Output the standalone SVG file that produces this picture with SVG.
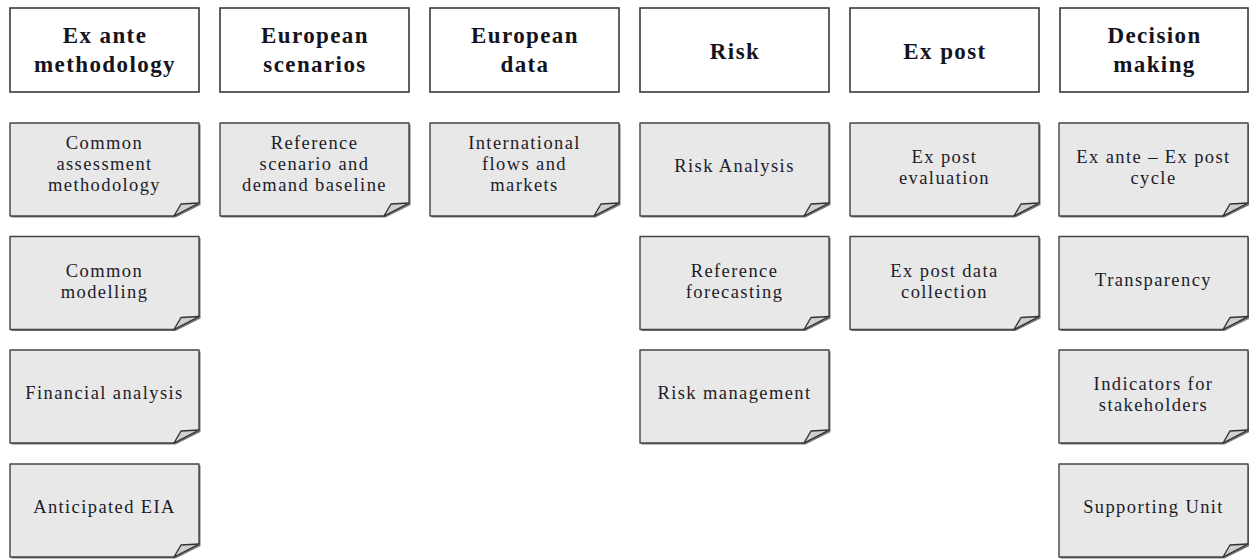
<svg xmlns="http://www.w3.org/2000/svg" width="1249" height="559" viewBox="0 0 1249 559">
<defs>
<style>
.hdr{fill:#fff;stroke:#3a3a3a;stroke-width:1.6}
.ht{font-family:"Liberation Serif",serif;font-weight:bold;font-size:23px;letter-spacing:1.4px;fill:#141420;text-anchor:middle}
.nt{font-family:"Liberation Serif",serif;font-size:18.5px;letter-spacing:1.4px;fill:#1c1c28;text-anchor:middle}
.sh{fill:#777;stroke:none}
.nb{fill:#e8e8e8;stroke:#444;stroke-width:1.4;stroke-linejoin:round}
.curl{fill:#cfcfcf;stroke:#333;stroke-width:1.4;stroke-linejoin:round}
</style>
<g id="note">
<path class="sh" d="M1.5,1.5 H190.5 V82 L165.5,94.5 H1.5 Z"/>
<path class="nb" d="M0,0 H189 V80 L164,93 H0 Z"/>
<path class="curl" d="M164,93 L171,81 L189,80 Z"/>
</g>
</defs>
<rect width="1249" height="559" fill="#fff"/>
<g id="connectors"/>

<g id="h1"><rect class="hdr" x="10" y="8" width="189" height="84"/><text class="ht" x="105" y="43">Ex ante</text><text class="ht" x="105" y="72">methodology</text></g>
<g id="h2"><rect class="hdr" x="220" y="8" width="189" height="84"/><text class="ht" x="315" y="43">European</text><text class="ht" x="315" y="72">scenarios</text></g>
<g id="h3"><rect class="hdr" x="430" y="8" width="189" height="84"/><text class="ht" x="525" y="43">European</text><text class="ht" x="525" y="72">data</text></g>
<g id="h4"><rect class="hdr" x="640" y="8" width="189" height="84"/><text class="ht" x="735" y="59">Risk</text></g>
<g id="h5"><rect class="hdr" x="850" y="8" width="189" height="84"/><text class="ht" x="945" y="59">Ex post</text></g>
<g id="h6"><rect class="hdr" x="1060" y="8" width="188" height="84"/><text class="ht" x="1154.5" y="43">Decision</text><text class="ht" x="1154.5" y="72">making</text></g>

<g id="n1a"><use href="#note" x="10" y="123"/><text class="nt" x="104.5" y="148.5">Common</text><text class="nt" x="104.5" y="169.5">assessment</text><text class="nt" x="104.5" y="190.5">methodology</text></g>
<g id="n1b"><use href="#note" x="10" y="236.5"/><text class="nt" x="104.5" y="276.5">Common</text><text class="nt" x="104.5" y="297.5">modelling</text></g>
<g id="n1c"><use href="#note" x="10" y="350"/><text class="nt" x="104.5" y="398.5">Financial analysis</text></g>
<g id="n1d"><use href="#note" x="10" y="464"/><text class="nt" x="104.5" y="512.5">Anticipated EIA</text></g>

<g id="n2a"><use href="#note" x="220" y="123"/><text class="nt" x="314.5" y="148.5">Reference</text><text class="nt" x="314.5" y="169.5">scenario and</text><text class="nt" x="314.5" y="190.5">demand baseline</text></g>

<g id="n3a"><use href="#note" x="430" y="123"/><text class="nt" x="524.5" y="148.5">International</text><text class="nt" x="524.5" y="169.5">flows and</text><text class="nt" x="524.5" y="190.5">markets</text></g>

<g id="n4a"><use href="#note" x="640" y="123"/><text class="nt" x="734.5" y="171.5">Risk Analysis</text></g>
<g id="n4b"><use href="#note" x="640" y="236.5"/><text class="nt" x="734.5" y="276.5">Reference</text><text class="nt" x="734.5" y="297.5">forecasting</text></g>
<g id="n4c"><use href="#note" x="640" y="350"/><text class="nt" x="734.5" y="398.5">Risk management</text></g>

<g id="n5a"><use href="#note" x="850" y="123"/><text class="nt" x="944.5" y="162.5">Ex post</text><text class="nt" x="944.5" y="183.5">evaluation</text></g>
<g id="n5b"><use href="#note" x="850" y="236.5"/><text class="nt" x="944.5" y="276.5">Ex post data</text><text class="nt" x="944.5" y="297.5">collection</text></g>

<g id="n6a"><use href="#note" x="1059" y="123"/><text class="nt" x="1153.5" y="162.5">Ex ante – Ex post</text><text class="nt" x="1153.5" y="183.5">cycle</text></g>
<g id="n6b"><use href="#note" x="1059" y="236.5"/><text class="nt" x="1153.5" y="285.5">Transparency</text></g>
<g id="n6c"><use href="#note" x="1059" y="350"/><text class="nt" x="1153.5" y="389.5">Indicators for</text><text class="nt" x="1153.5" y="410.5">stakeholders</text></g>
<g id="n6d"><use href="#note" x="1059" y="464"/><text class="nt" x="1153.5" y="512.5">Supporting Unit</text></g>
</svg>
